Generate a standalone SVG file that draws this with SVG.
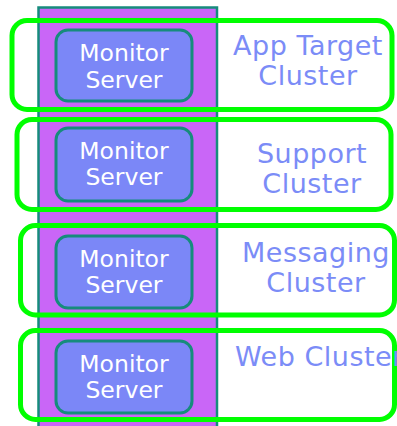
<svg xmlns="http://www.w3.org/2000/svg" width="397" height="426" viewBox="0 0 397 426">
<style>
.col{fill:#c966f7;stroke:#168c7c;stroke-width:2.5}
.srv{fill:#7b87f7;stroke:#168c7c;stroke-width:3}
.st{font-family:"DejaVu Sans",Verdana,sans-serif;font-size:23.5px;fill:#ffffff;text-anchor:middle}
.cl{fill:none;stroke:#00ff00;stroke-width:5}
.lb{font-family:"DejaVu Sans",Verdana,sans-serif;font-size:27px;letter-spacing:0.5px;fill:#7b8cf7;text-anchor:middle}
</style>
<rect class="col" x="38.5" y="7.5" width="178.5" height="430"/>
<g id="server1"><rect class="srv" x="56" y="30" width="136" height="71" rx="12"/><text class="st" x="124" y="61">Monitor</text><text class="st" x="124" y="88">Server</text></g>
<g id="server2"><rect class="srv" x="56" y="128" width="136" height="73" rx="12"/><text class="st" x="124" y="159">Monitor</text><text class="st" x="124" y="185">Server</text></g>
<g id="server3"><rect class="srv" x="56" y="236" width="136" height="72" rx="12"/><text class="st" x="124" y="267">Monitor</text><text class="st" x="124" y="293">Server</text></g>
<g id="server4"><rect class="srv" x="56" y="341" width="136" height="72" rx="12"/><text class="st" x="124" y="372">Monitor</text><text class="st" x="124" y="398">Server</text></g>
<g id="cluster1"><rect class="cl" x="12" y="20.5" width="380" height="89" rx="15"/><text class="lb" x="308" y="55">App Target</text><text class="lb" x="308" y="85">Cluster</text></g>
<g id="cluster2"><rect class="cl" x="17" y="119.5" width="374" height="90" rx="15"/><text class="lb" x="312" y="163">Support</text><text class="lb" x="312" y="193">Cluster</text></g>
<g id="cluster3"><rect class="cl" x="20.5" y="225.5" width="374" height="89.5" rx="15"/><text class="lb" x="316" y="262">Messaging</text><text class="lb" x="316" y="292">Cluster</text></g>
<g id="cluster4"><rect class="cl" x="20.5" y="330.5" width="374" height="89" rx="15"/><text class="lb" x="235" y="366" style="text-anchor:start">Web Cluster</text></g>
<g id="connectors"></g>
</svg>
